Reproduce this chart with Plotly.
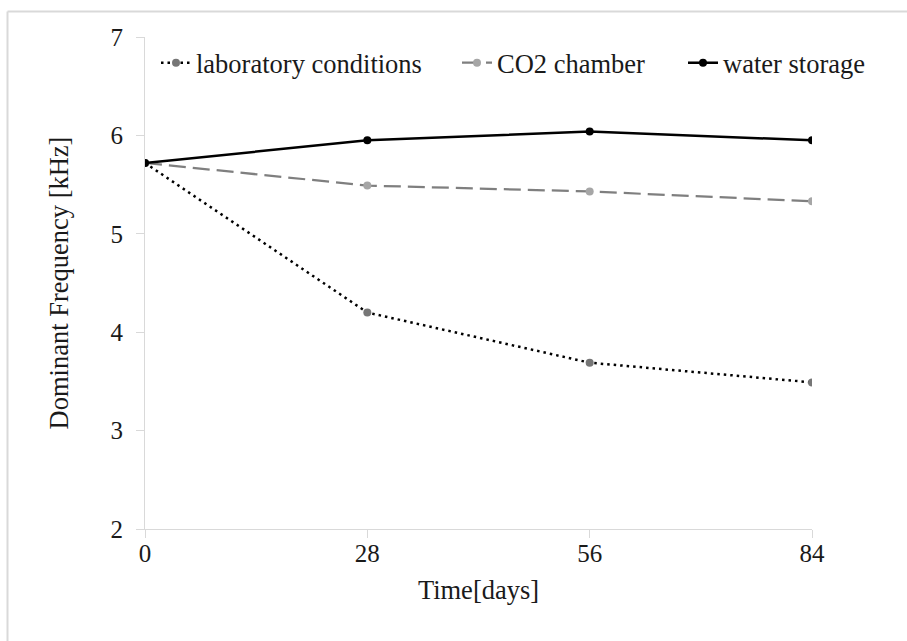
import plotly.graph_objects as go

days = [0, 28, 56, 84]
lab_conditions = [5.72, 4.20, 3.69, 3.49]
co2_chamber = [5.72, 5.49, 5.43, 5.33]
water_storage = [5.72, 5.95, 6.04, 5.95]
x_ticks = [0, 28, 56, 84]
y_ticks = [2, 3, 4, 5, 6, 7]
series_names = ["laboratory conditions", "CO2 chamber", "water storage"]

FONT = "Liberation Serif"
W, H = 907, 641
L, R, T, B = 145, 95, 37, 112
pw, ph = W - L - R, H - T - B


def px_x(p):
    return (p - L) / pw


def px_y(p):
    return 1 - (p - T) / ph


fig = go.Figure()
fig.add_trace(go.Scatter(
    x=days, y=lab_conditions, name=series_names[0], mode="lines+markers", legend="legend",
    line=dict(color="#000000", width=2.5, dash="2.5px,4px"),
    marker=dict(color="#767676", size=8)))
fig.add_trace(go.Scatter(
    x=days, y=co2_chamber, name=series_names[1], mode="lines+markers", legend="legend2",
    line=dict(color="#7f7f7f", width=2.25, dash="17px,7px"),
    marker=dict(color="#a6a6a6", size=8)))
fig.add_trace(go.Scatter(
    x=days, y=water_storage, name=series_names[2], mode="lines+markers", legend="legend3",
    line=dict(color="#000000", width=2.5),
    marker=dict(color="#000000", size=8)))

shape_style = dict(type="line", xref="paper", yref="paper", line=dict(color="#d9d9d9", width=2))
fig.add_shape(x0=px_x(7.5), x1=px_x(W + 10), y0=px_y(11.5), y1=px_y(11.5), **shape_style)
fig.add_shape(x0=px_x(7.5), x1=px_x(7.5), y0=px_y(11.5), y1=px_y(H + 10), **shape_style)


def leg(xpx):
    return dict(orientation="h", x=px_x(xpx), y=px_y(63), xanchor="left", yanchor="middle",
                font=dict(family=FONT, size=26.5, color="#1a1a1a"),
                bgcolor="rgba(0,0,0,0)", itemwidth=30)


fig.update_layout(
    width=W, height=H,
    margin=dict(l=L, r=R, t=T, b=B),
    paper_bgcolor="white", plot_bgcolor="white",
    font=dict(family=FONT, color="#1a1a1a", size=25),
    showlegend=True,
    legend=leg(156),
    legend2=leg(457),
    legend3=leg(683),
    xaxis=dict(range=[0, 84], tickvals=x_ticks, ticktext=[str(v) for v in x_ticks],
               showgrid=False, zeroline=False, showline=True, linecolor="#d9d9d9", linewidth=1,
               ticks="outside", ticklen=8, tickcolor="#d9d9d9",
               tickfont=dict(family=FONT, size=25), ticklabelstandoff=-6,
               title=dict(text="Time[days]", font=dict(family=FONT, size=26.5), standoff=14)),
    yaxis=dict(range=[2, 7], tickvals=y_ticks, showgrid=False, zeroline=False,
               showline=True, linecolor="#d9d9d9", linewidth=1,
               ticks="outside", ticklen=8, tickcolor="#d9d9d9",
               tickfont=dict(family=FONT, size=25), ticklabelstandoff=8,
               title=dict(text="Dominant Frequency [kHz]", font=dict(family=FONT, size=26.5),
                          standoff=34)),
)

fig.write_html("out.html")
